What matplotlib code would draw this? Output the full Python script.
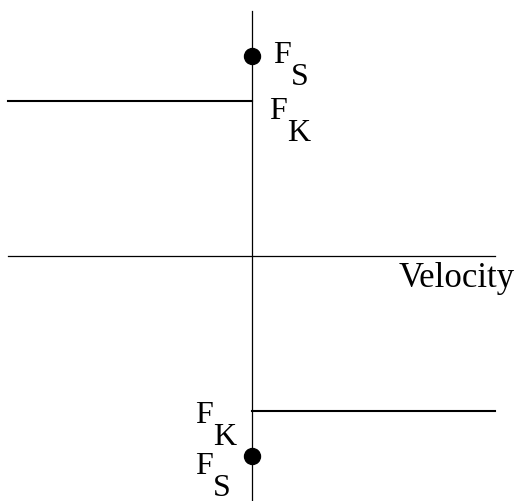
import matplotlib
matplotlib.use('Agg')
import matplotlib.pyplot as plt

# friction force vs velocity (units of F_K)
f_kinetic = 1.0
f_static = 1.29
v_left = -1.0
v_right = 1.0
axis_top = 1.58
axis_bottom = -1.58

# labels: (main letter, subscript, x, y of baseline)
labels = [
    ('F', 'S', 0.088, 1.252),
    ('F', 'K', 0.072, 0.890),
    ('F', 'K', -0.232, -1.071),
    ('F', 'S', -0.232, -1.400),
]
axis_label = 'Velocity'

fig = plt.figure(figsize=(5.30, 5.02), dpi=100)
ax = fig.add_axes([0, 0, 1, 1])
ax.set_xlim(-1.0329, 1.1437)
ax.set_ylim(-1.5806, 1.658)
ax.axis('off')

ax.plot([v_left, v_right], [0, 0], color='black', lw=0.9)
ax.plot([0, 0], [axis_bottom, axis_top], color='black', lw=0.9)
ax.plot([v_left, 0], [f_kinetic, f_kinetic], color='black', lw=1.5)
ax.plot([0, v_right], [-f_kinetic, -f_kinetic], color='black', lw=1.5)
ax.plot([0, 0], [f_static, -f_static], 'o', color='black', ms=11.5, ls='none')

font = dict(family='Liberation Serif', color='black')
for main, sub, x, y in labels:
    ax.text(x, y, main, ha='left', va='baseline', fontsize=23, **font)
    ax.text(x + 0.074, y - 0.14, sub, ha='left', va='baseline', fontsize=23, **font)

ax.text(0.605, -0.194, axis_label, ha='left', va='baseline', fontsize=25, **font)

fig.savefig('out.png', dpi=100)
